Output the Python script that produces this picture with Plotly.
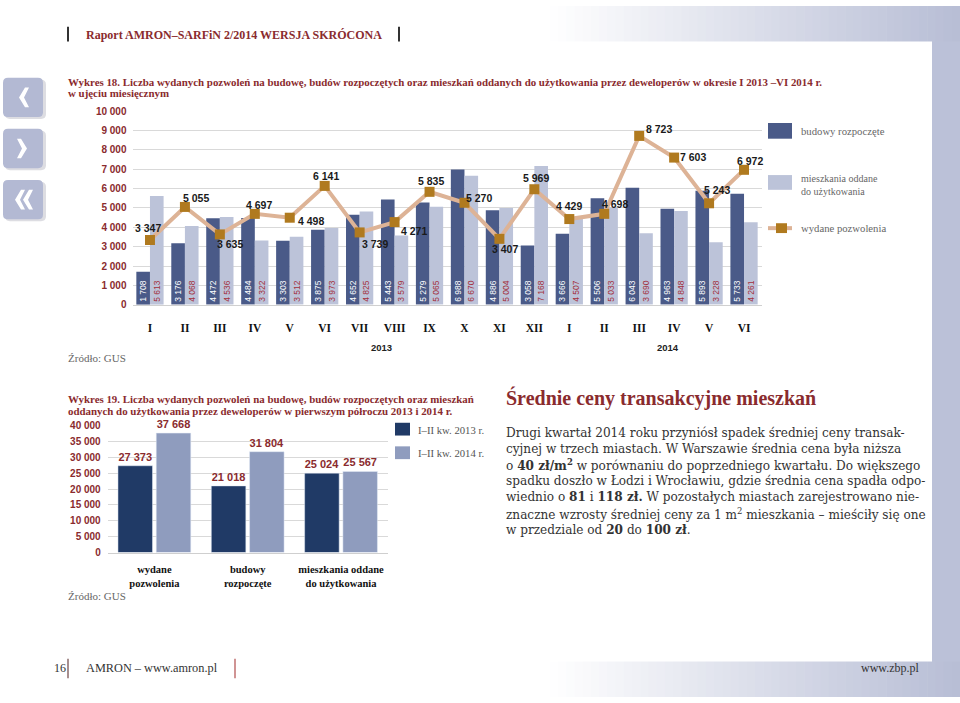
import plotly.graph_objects as go

W, H = 960, 703


def X(p):
    return p / W


def Y(p):
    return 1 - p / H


def fmt(v):
    return f"{v:,}".replace(",", " ")


# ---------------- data ----------------
MONTHS = ["I", "II", "III", "IV", "V", "VI", "VII", "VIII", "IX", "X", "XI", "XII",
          "I", "II", "III", "IV", "V", "VI"]
STARTED = [1708, 3176, 4472, 4484, 3303, 3875, 4652, 5443, 5279, 6988, 4886, 3058,
           3666, 5506, 6043, 4963, 5893, 5733]
COMPLETED = [5613, 4068, 4536, 3322, 3512, 3973, 4825, 3579, 5065, 6670, 5004, 7168,
             4507, 5033, 3690, 4848, 3228, 4261]
PERMITS = [3347, 5055, 3635, 4697, 4498, 6141, 3739, 4271, 5835, 5270, 3407, 5969,
           4429, 4698, 8723, 7603, 5243, 6972]
Y1_TICKS = list(range(0, 10001, 1000))

H1_CATS = ["wydane<br>pozwolenia", "budowy<br>rozpoczęte", "mieszkania oddane<br>do użytkowania"]
H1_2013 = [27373, 21018, 25024]
H1_2014 = [37668, 31804, 25567]
Y2_TICKS = list(range(0, 40001, 5000))

# label offsets for the permits line (pixels: dx right, dy up) - styling only
LABEL_OFFSETS = [(-2, 12), (11, 9), (10, -10), (4, 9), (21, -3), (1, 10), (15, -12),
                 (19, -9), (1, 11), (15, 5), (6, -10), (2, 11), (0, 13), (11, 10),
                 (20, 7), (19, 1), (8, 13), (6, 9)]

# ---------------- style ----------------
SERIF = "Liberation Serif"
BODY = "DejaVu Serif"
SANS = "Liberation Sans"
RED = "#8a2b2e"
DARK1 = "#4a5a88"
LIGHT1 = "#bcc3d9"
LINEC = "#ddb396"
MARK = "#b07a1f"
DARK2 = "#203a66"
LIGHT2 = "#8f9cbe"
LAV = (183, 189, 213)

fig = go.Figure()

idx = list(range(len(MONTHS)))

fig.add_trace(go.Bar(
    x=idx, y=STARTED, width=0.39, offset=-0.39, marker=dict(color=DARK1, line=dict(width=0)),
    text=[fmt(v) for v in STARTED], textposition="inside", textangle=-90,
    insidetextanchor="start",
    insidetextfont=dict(family=SANS, size=8.5, color="white"),
    name="budowy rozpoczęte", xaxis="x", yaxis="y", hoverinfo="skip"))
fig.add_trace(go.Bar(
    x=idx, y=COMPLETED, width=0.39, offset=0.0, marker=dict(color=LIGHT1, line=dict(width=0)),
    text=[fmt(v) for v in COMPLETED], textposition="inside", textangle=-90,
    insidetextanchor="start",
    insidetextfont=dict(family=SANS, size=8.5, color="#a3303c"),
    name="mieszkania oddane do użytkowania", xaxis="x", yaxis="y", hoverinfo="skip"))
fig.add_trace(go.Scatter(
    x=idx, y=PERMITS, mode="lines+markers",
    line=dict(color=LINEC, width=4),
    marker=dict(symbol="square", size=10, color=MARK),
    name="wydane pozwolenia", xaxis="x", yaxis="y", hoverinfo="skip", cliponaxis=False))

fig.add_trace(go.Bar(
    x=[0, 1, 2], y=H1_2013, width=0.37, offset=-0.39, marker=dict(color=DARK2),
    text=[fmt(v) for v in H1_2013], textposition="outside",
    textfont=dict(family=SANS, size=11, color=RED, weight="bold"),
    name="I–II kw. 2013 r.", xaxis="x2", yaxis="y2", cliponaxis=False, hoverinfo="skip"))
fig.add_trace(go.Bar(
    x=[0, 1, 2], y=H1_2014, width=0.37, offset=0.02, marker=dict(color=LIGHT2),
    text=[fmt(v) for v in H1_2014], textposition="outside",
    textfont=dict(family=SANS, size=11, color=RED, weight="bold"),
    name="I–II kw. 2014 r.", xaxis="x2", yaxis="y2", cliponaxis=False, hoverinfo="skip"))

# ---------------- shapes ----------------
shapes = []
N = 50
x_start, x_end = 550, 960
step = (x_end - x_start) / N
for i in range(N):
    t = (i + 0.5) / N
    c = tuple(int(round(255 + (LAV[k] - 255) * t)) for k in range(3))
    shapes.append(dict(type="rect", xref="paper", yref="paper", layer="below",
                       x0=X(x_start + i * step), x1=X(x_start + (i + 1) * step + 0.6),
                       y0=0, y1=1, line=dict(width=0), fillcolor=f"rgb{c}"))
shapes.append(dict(type="rect", xref="paper", yref="paper", layer="below",
                   x0=X(932), x1=1, y0=Y(667), y1=Y(36), line=dict(width=0),
                   fillcolor="rgb(187,193,216)"))
shapes.append(dict(type="rect", xref="paper", yref="paper", layer="below",
                   x0=0, x1=X(932), y0=Y(667), y1=Y(36), line=dict(width=0),
                   fillcolor="white"))


def rrect(x0, y0, x1, y1, r):
    return (f"M {X(x0 + r)},{Y(y0)} L {X(x1 - r)},{Y(y0)} Q {X(x1)},{Y(y0)} {X(x1)},{Y(y0 + r)} "
            f"L {X(x1)},{Y(y1 - r)} Q {X(x1)},{Y(y1)} {X(x1 - r)},{Y(y1)} "
            f"L {X(x0 + r)},{Y(y1)} Q {X(x0)},{Y(y1)} {X(x0)},{Y(y1 - r)} "
            f"L {X(x0)},{Y(y0 + r)} Q {X(x0)},{Y(y0)} {X(x0 + r)},{Y(y0)} Z")


def poly(pts):
    return "M " + " L ".join(f"{X(a)},{Y(b)}" for a, b in pts) + " Z"


for (y0, y1) in [(73, 113), (125, 165), (177, 217)]:
    shapes.append(dict(type="path", xref="paper", yref="paper", path=rrect(5, y0 + 2, 46, y1 + 2, 5),
                       fillcolor="rgba(120,120,140,0.25)", line=dict(width=0), layer="below"))
    shapes.append(dict(type="path", xref="paper", yref="paper", path=rrect(3, y0, 43, y1, 5),
                       fillcolor="#b3b9d3", line=dict(width=0), layer="below"))

chev = [
    [(25, 83), (29, 83), (24, 93), (29, 103), (25, 103), (19, 93)],
    [(21, 135), (17, 135), (22, 145), (17, 155), (21, 155), (27, 145)],
    [(21, 187), (25, 187), (20, 197), (25, 207), (21, 207), (15, 197)],
    [(29, 187), (33, 187), (28, 197), (33, 207), (29, 207), (23, 197)],
]
for c in chev:
    shapes.append(dict(type="path", xref="paper", yref="paper", path=poly(c),
                       fillcolor="white", line=dict(width=0)))

# header / footer separators
for xx, col in [(68, "#333333"), (399, "#333333")]:
    shapes.append(dict(type="line", xref="paper", yref="paper", x0=X(xx), x1=X(xx),
                       y0=Y(21), y1=Y(36), line=dict(color=col, width=2)))
for xx, col in [(68, "#8a6a6a"), (235, "#c07070")]:
    shapes.append(dict(type="line", xref="paper", yref="paper", x0=X(xx), x1=X(xx),
                       y0=Y(664), y1=Y(684), line=dict(color=col, width=1.5)))

# legend chart 1
shapes.append(dict(type="rect", xref="paper", yref="paper", x0=X(768), x1=X(792),
                   y0=Y(135), y1=Y(119), fillcolor=DARK1, line=dict(width=0)))
shapes.append(dict(type="rect", xref="paper", yref="paper", x0=X(768), x1=X(792),
                   y0=Y(187), y1=Y(172), fillcolor=LIGHT1, line=dict(width=0)))
shapes.append(dict(type="line", xref="paper", yref="paper", x0=X(768), x1=X(792),
                   y0=Y(226), y1=Y(226), line=dict(color=LINEC, width=4)))
shapes.append(dict(type="rect", xref="paper", yref="paper", x0=X(776), x1=X(787),
                   y0=Y(231), y1=Y(221), fillcolor=MARK, line=dict(width=0)))
# legend chart 2
shapes.append(dict(type="rect", xref="paper", yref="paper", x0=X(395), x1=X(410),
                   y0=Y(437), y1=Y(424), fillcolor=DARK2, line=dict(width=0)))
shapes.append(dict(type="rect", xref="paper", yref="paper", x0=X(395), x1=X(410),
                   y0=Y(461), y1=Y(448), fillcolor=LIGHT2, line=dict(width=0)))

# ---------------- annotations ----------------
ann = []


def txt(x, y, text, size, color="#333", family=SERIF, bold=False, xanchor="left"):
    ann.append(dict(xref="paper", yref="paper", x=X(x), y=Y(y), text=text, showarrow=False,
                    xanchor=xanchor, yanchor="middle", align="left",
                    font=dict(family=family, size=size, color=color,
                              weight="bold" if bold else "normal")))


txt(84, 29, "Raport AMRON–SARFiN 2/2014 WERSJA SKRÓCONA", 12, RED, bold=True)
txt(66, 77, "Wykres 18. Liczba wydanych pozwoleń na budowę, budów rozpoczętych oraz mieszkań "
            "oddanych do użytkowania przez deweloperów w okresie I 2013 –VI 2014 r.", 10.9, RED, bold=True)
txt(66, 89, "w ujęciu miesięcznym", 10.9, RED, bold=True)

txt(799, 127, "budowy rozpoczęte", 10.7, "#666")
txt(799, 182, "mieszkania oddane<br>do użytkowania", 10, "#666")
txt(799, 226, "wydane pozwolenia", 10.7, "#666")

txt(381, 347, "2013", 9.5, "#222", SANS, True, "center")
txt(668, 347, "2014", 9.5, "#222", SANS, True, "center")
txt(66, 358, "Źródło: GUS", 11, "#666")

txt(66, 400, "Wykres 19. Liczba wydanych pozwoleń na budowę, budów rozpoczętych oraz mieszkań",
    10.9, RED, bold=True)
txt(66, 412, "oddanych do użytkowania przez deweloperów w pierwszym półroczu 2013 i 2014 r.",
    10.9, RED, bold=True)
txt(416, 431, "I–II kw. 2013 r.", 10.7, "#555")
txt(416, 455, "I–II kw. 2014 r.", 10.7, "#555")
txt(66, 600, "Źródło: GUS", 11, "#666")

txt(504, 399, "Średnie ceny transakcyjne mieszkań", 20, RED, bold=True)
PARA = [
    "Drugi kwartał 2014 roku przyniósł spadek średniej ceny transak-",
    "cyjnej w trzech miastach. W Warszawie średnia cena była niższa",
    "o <b>40 zł/m<sup>2</sup></b> w porównaniu do poprzedniego kwartału. Do większego",
    "spadku doszło w Łodzi i Wrocławiu, gdzie średnia cena spadła odpo-",
    "wiednio o <b>81</b> i <b>118 zł.</b> W pozostałych miastach zarejestrowano nie-",
    "znaczne wzrosty średniej ceny za 1 m<sup>2</sup> mieszkania – mieściły się one",
    "w przedziale od <b>20</b> do <b>100 zł</b>.",
]
for k, line in enumerate(PARA):
    txt(504, 434 + k * 16.5, line, 12.1, "#333", BODY)

txt(52, 674, "16", 12, "#333")
txt(84, 674, "AMRON – www.amron.pl", 12.3, "#333")
txt(922, 674, "www.zbp.pl", 12, "#333", xanchor="right")

for i, v in enumerate(PERMITS):
    dx, dy = LABEL_OFFSETS[i]
    ann.append(dict(xref="x", yref="y", x=i, y=v, text=fmt(v), showarrow=False,
                    xshift=dx, yshift=dy, xanchor="center", yanchor="middle",
                    font=dict(family=SANS, size=10.5, color="#1a1a1a", weight="bold")))

fig.update_layout(
    width=W, height=H, margin=dict(l=0, r=0, t=0, b=0),
    paper_bgcolor="white", plot_bgcolor="rgba(0,0,0,0)",
    showlegend=False, barmode="group",
    uniformtext=dict(minsize=8.5, mode="show"),
    shapes=shapes, annotations=ann,
    xaxis=dict(domain=[X(132.5), X(761.5)], range=[-0.5, 17.5], anchor="y",
               tickmode="array", tickvals=idx, ticktext=MONTHS,
               ticks="outside", ticklen=12, tickcolor="rgba(0,0,0,0)",
               tickfont=dict(family=SERIF, size=11.5, color="#111", weight="bold"),
               showgrid=False, zeroline=False, showline=True, linecolor="#d0d0d0"),
    yaxis=dict(domain=[Y(304), Y(107)], range=[0, 10000], anchor="x",
               tickmode="array", tickvals=Y1_TICKS, ticktext=[fmt(v) for v in Y1_TICKS],
               ticks="outside", ticklen=3, tickcolor="rgba(0,0,0,0)",
               tickfont=dict(family=SANS, size=10, color=RED, weight="bold"),
               gridcolor="#d9d9d9", zeroline=False, showline=False),
    xaxis2=dict(domain=[X(107.7), X(387.7)], range=[-0.5, 2.5], anchor="y2",
                tickmode="array", tickvals=[0, 1, 2], ticktext=H1_CATS,
                ticks="outside", ticklen=7, tickcolor="rgba(0,0,0,0)",
                tickfont=dict(family=SERIF, size=10.5, color="#111", weight="bold"),
                showgrid=False, zeroline=False, showline=True, linecolor="#cfcfcf"),
    yaxis2=dict(domain=[Y(556), Y(427)], range=[0, 40000], anchor="x2",
                tickmode="array", tickvals=Y2_TICKS, ticktext=[fmt(v) for v in Y2_TICKS],
                ticks="outside", ticklen=4, tickcolor="rgba(0,0,0,0)",
                tickfont=dict(family=SANS, size=10, color=RED, weight="bold"),
                gridcolor="#d9d9d9", zeroline=False, showline=False),
)

fig.write_html(
    "out.html",
    config={"displayModeBar": False},
    post_script="document.body.style.margin='0px';document.body.style.padding='0px';"
                "document.body.style.overflow='hidden';"
                "document.documentElement.style.overflow='hidden';",
)
